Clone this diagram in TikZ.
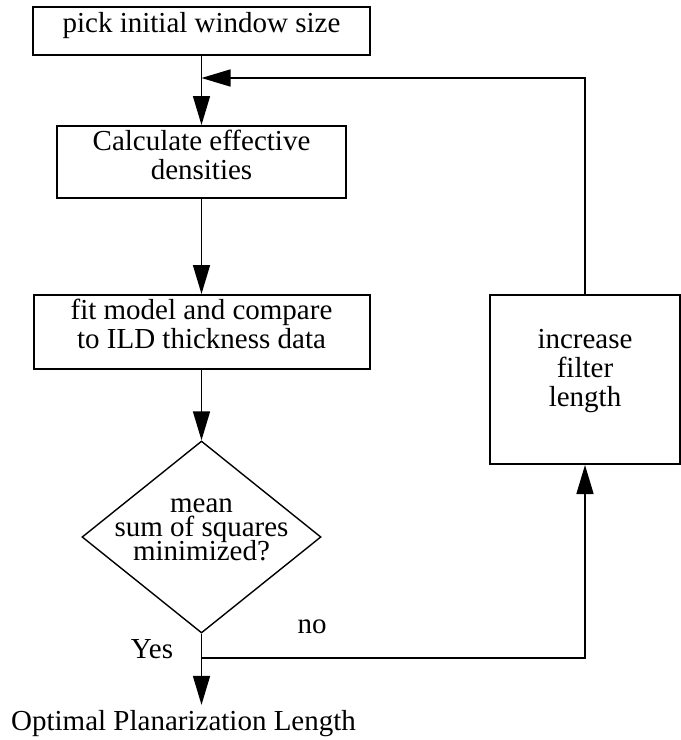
\documentclass[tikz,border=0pt]{standalone}
\usepackage{fontspec}
\setmainfont{Liberation Serif}
\usetikzlibrary{arrows.meta}
\usetikzlibrary{shapes.geometric}
\newcommand{\dropline}[1]{\rule[-#1]{0pt}{#1}}

\begin{document}
\begin{tikzpicture}[x=0.5pt, y=-0.5pt,
  every node/.style={font=\fontsize{14.5pt}{14.5pt}\selectfont},
  stepbox/.style={draw, line width=1pt, align=center, inner sep=0pt},
  test/.style={draw, shape=diamond, aspect=1.245, line width=0.7pt, align=center,
    inner sep=-4pt, minimum width=119.5pt, minimum height=96pt,
    font={\fontsize{14.5pt}{12pt}\selectfont\lineskiplimit=-20pt}},
  flow/.style={line width=0.8pt, -{Triangle[length=14.5pt, width=8.5pt]}}]
\useasboundingbox (0, 0) rectangle (681, 740);
\node[stepbox, minimum width=168.5pt, minimum height=24pt] (pick) at (201.5, 31) {pick initial window size\dropline{8.1pt}};
\node[stepbox, minimum width=144.5pt, minimum height=36pt] (calc) at (201.5, 162) {Calculate effective\\densities\dropline{7pt}};
\node[stepbox, minimum width=168pt, minimum height=37pt] (fit) at (201.5, 332) {fit model and compare\\to ILD thickness data\dropline{8pt}};
\node[test] (check) at (201.5, 537) {mean\\sum of squares\\minimized?\dropline{7pt}};
\node[stepbox, minimum width=95pt, minimum height=84.5pt] (incr) at (585, 379.5) {increase\\filter\\length\dropline{11.6pt}};
\node[anchor=base] (yes) at (152, 658) {Yes};
\node[anchor=base] (no) at (312, 633) {no};
\node[anchor=base, inner sep=0pt, outer ysep=2.5pt] (out) at (183.5, 730) {Optimal Planarization Length};
\path (201.5, 78) coordinate (join) (201.5, 658) coordinate (fork);
\draw[flow] (pick) -- (calc);
\draw[flow] (calc) -- (fit);
\draw[flow] (fit) -- (check);
\draw[line width=0.8pt] (check) -- (fork);
\draw[flow] (fork) -- (fork |- out.north);
\draw[flow] (fork) -| (incr);
\draw[flow] (incr) |- (join);
\end{tikzpicture}
\end{document}
